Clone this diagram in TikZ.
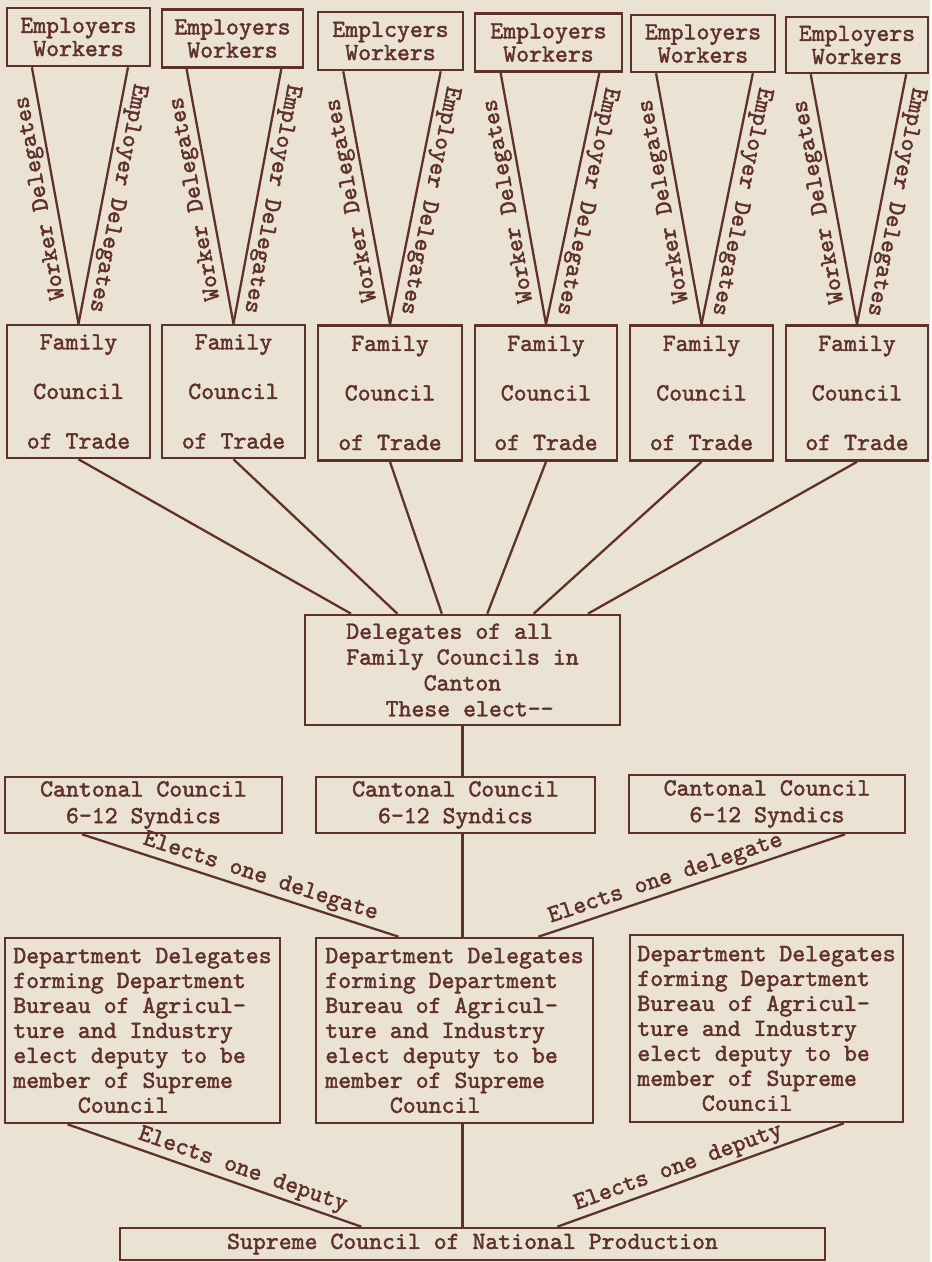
\documentclass[tikz,border=0pt]{standalone}
\usepackage{fontspec}
\setmonofont{lmmono10-regular.otf}[FakeBold=1.8]
\usepackage{tikz}
\usepackage{xcolor}
\usetikzlibrary{calc}
\definecolor{paper}{RGB}{234,226,211}
\definecolor{ink}{RGB}{96,48,44}
\tikzset{
  box/.style={draw=ink,line width=1.5pt,inner sep=0pt},
  link/.style={draw=ink,line width=1.3pt},
  tag/.style={sloped,above,inner sep=1.5pt}
}

\begin{document}
\begin{tikzpicture}[x=0.2mm,y=-0.2mm,
  every node/.style={font=\ttfamily\fontsize{14pt}{14.2pt}\selectfont,text=ink}]
\fill[paper] (0,0) rectangle (930,1262);
\node[box,minimum width=28.6mm,minimum height=11.6mm,align=center] (emp1) at (78.5,37) {Employers\\[-1pt]Workers};
\node[box,minimum width=28.2mm,minimum height=11.6mm,align=center] (emp2) at (232.5,38.5) {Employers\\[-1pt]Workers};
\node[box,minimum width=29mm,minimum height=11.6mm,align=center] (emp3) at (390.5,41) {Emplcyers\\[-1pt]Workers};
\node[box,minimum width=29.4mm,minimum height=11.6mm,align=center] (emp4) at (548.5,42.5) {Employers\\[-1pt]Workers};
\node[box,minimum width=28.8mm,minimum height=11.4mm,align=center] (emp5) at (703,43.5) {Employers\\[-1pt]Workers};
\node[box,minimum width=28.4mm,minimum height=11.2mm,align=center] (emp6) at (857,45) {Employers\\[-1pt]Workers};
\node[box,minimum width=28.6mm,minimum height=26.6mm,align=center] (fam1) at (78.5,391.5) {Family\\[14pt]Council\\[14pt]of Trade};
\node[box,minimum width=28.6mm,minimum height=26.6mm,align=center] (fam2) at (233.5,391.5) {Family\\[14pt]Council\\[14pt]of Trade};
\node[box,minimum width=28.8mm,minimum height=27mm,align=center] (fam3) at (390,393) {Family\\[14pt]Council\\[14pt]of Trade};
\node[box,minimum width=28.4mm,minimum height=27mm,align=center] (fam4) at (546,393) {Family\\[14pt]Council\\[14pt]of Trade};
\node[box,minimum width=28.6mm,minimum height=27mm,align=center] (fam5) at (701.5,393) {Family\\[14pt]Council\\[14pt]of Trade};
\node[box,minimum width=28.4mm,minimum height=27mm,align=center] (fam6) at (857,393) {Family\\[14pt]Council\\[14pt]of Trade};
\node[box,minimum width=63mm,minimum height=22mm,align=left] (deleg) at (462.5,670) {Delegates of all\\[0.5pt]Family Councils in\\[0.5pt]\hspace*{3.15em}Canton\\[0.5pt]\hspace*{1.6em}These elect——};
\node[box,minimum width=55.4mm,minimum height=11.2mm,align=center] (cant1) at (143.5,805) {Cantonal Council\\[1pt]6-12 Syndics};
\node[box,minimum width=55.8mm,minimum height=11.2mm,align=center] (cant2) at (455.5,805) {Cantonal Council\\[1pt]6-12 Syndics};
\node[box,minimum width=55.2mm,minimum height=11.6mm,align=center] (cant3) at (767,804) {Cantonal Council\\[1pt]6-12 Syndics};
\node[box,minimum width=55mm,minimum height=37mm,align=left] (dept1) at (142.5,1030.5) {Department Delegates\\forming Department\\Bureau of Agricul-\\ture and Industry\\elect deputy to be\\member of Supreme\\\hspace*{2.625em}Council};
\node[box,minimum width=55.4mm,minimum height=37mm,align=left] (dept2) at (454.5,1030.5) {Department Delegates\\forming Department\\Bureau of Agricul-\\ture and Industry\\elect deputy to be\\member of Supreme\\\hspace*{2.625em}Council};
\node[box,minimum width=54.6mm,minimum height=37.4mm,align=left] (dept3) at (766.5,1028.5) {Department Delegates\\forming Department\\Bureau of Agricul-\\ture and Industry\\elect deputy to be\\member of Supreme\\\hspace*{2.625em}Council};
\node[box,minimum width=141mm,minimum height=6.4mm] (sup) at (472.5,1244) {Supreme Council of National Production};
\foreach \i in {1,...,6}{
  \draw[link] (fam\i.north) -- node[tag,allow upside down]{Worker Delegates} ($(emp\i.south west)!.18!(emp\i.south east)$);
  \draw[link] ($(emp\i.south west)!.84!(emp\i.south east)$) -- node[tag,allow upside down]{Employer Delegates} (fam\i.north);
}
\foreach \i/\f in {1/.149,2/.295,3/.435,4/.578,5/.724,6/.895}
  \draw[link] (fam\i.south) -- ($(deleg.north west)!\f!(deleg.north east)$);
\draw[link] (deleg.south) -- (deleg.south |- cant2.north);
\draw[link] (cant2.south -| deleg.south) -- (deleg.south |- dept2.north);
\draw[link] ($(cant1.south west)!.28!(cant1.south east)$) -- node[tag,pos=.55]{Elects one delegate} ($(dept2.north west)!.3!(dept2.north east)$);
\draw[link] ($(dept2.north west)!.8!(dept2.north east)$) -- node[tag,pos=.43]{Elects one delegate} ($(cant3.south west)!.78!(cant3.south east)$);
\draw[link] (dept2.south -| deleg.south) -- (deleg.south |- sup.north);
\draw[link] ($(dept1.south west)!.23!(dept1.south east)$) -- node[tag,pos=.58]{Elects one deputy} ($(sup.north west)!.343!(sup.north east)$);
\draw[link] ($(sup.north west)!.62!(sup.north east)$) -- node[tag,pos=.44]{Elects one deputy} ($(dept3.south west)!.78!(dept3.south east)$);
\end{tikzpicture}
\end{document}
